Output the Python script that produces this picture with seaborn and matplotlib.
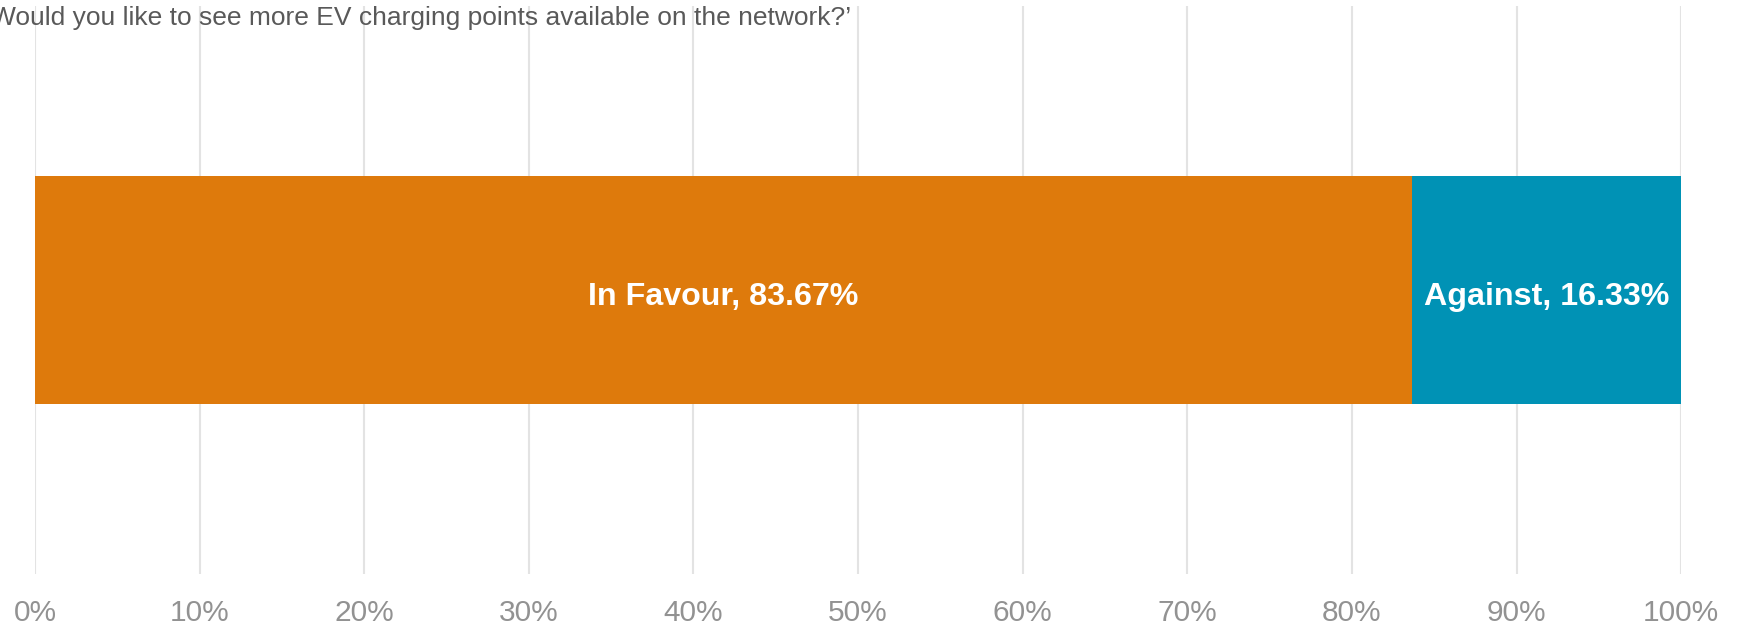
import matplotlib
matplotlib.use("Agg")
import matplotlib.pyplot as plt
import seaborn as sns
import pandas as pd
from matplotlib.ticker import PercentFormatter

# ─── Data ─────────────────────────────────────────────────
question = "Would you like to see more EV charging points available on the network?’"
responses = ["In Favour", "Against"]
shares = [83.67, 16.33]

ORANGE = "#DE7A0C"
BLUE = "#0092B5"
GRID = "#E3E3E3"
TICK = "#929292"
TITLE = "#595959"

sns.set_theme(style="white")
plt.rcParams["font.family"] = ["Liberation Sans", "DejaVu Sans"]

df = pd.DataFrame({"q": ["q"], "fav": [shares[0]], "total": [sum(shares)]})

fig = plt.figure(figsize=(17.46, 6.28), dpi=100)
ax = fig.add_axes([0.02005, 0.086, 0.9428, 0.9044])

# stacked bar: full width in blue, then "In Favour" on top
sns.barplot(data=df, x="total", y="q", orient="h", color=BLUE,
            width=0.403, saturation=1, linewidth=0, ax=ax, zorder=2)
sns.barplot(data=df, x="fav", y="q", orient="h", color=ORANGE,
            width=0.403, saturation=1, linewidth=0, ax=ax, zorder=3)

ax.set_xlim(0, 100)
ax.set_ylim(0.5, -0.5)
ax.set_xticks(range(0, 101, 10))
ax.xaxis.set_major_formatter(PercentFormatter(decimals=0))
ax.set_yticks([])
ax.set_xlabel("")
ax.set_ylabel("")
ax.grid(axis="x", color=GRID, linewidth=1.5, zorder=0)
ax.set_axisbelow(True)
for s in ax.spines.values():
    s.set_visible(False)
ax.tick_params(axis="x", length=0, pad=18, labelsize=21.5, labelcolor=TICK)

# segment labels
left = 0
for name, val in zip(responses, shares):
    ax.text(left + val / 2, 0.012, f"{name}, {val:.2f}%", ha="center", va="center",
            color="white", fontsize=23.2, fontweight="bold", zorder=4)
    left += val

fig.text(-0.005, 1 - 25 / 628, question, ha="left", va="baseline",
         fontsize=19, color=TITLE)

fig.savefig("out.png", dpi=100)
